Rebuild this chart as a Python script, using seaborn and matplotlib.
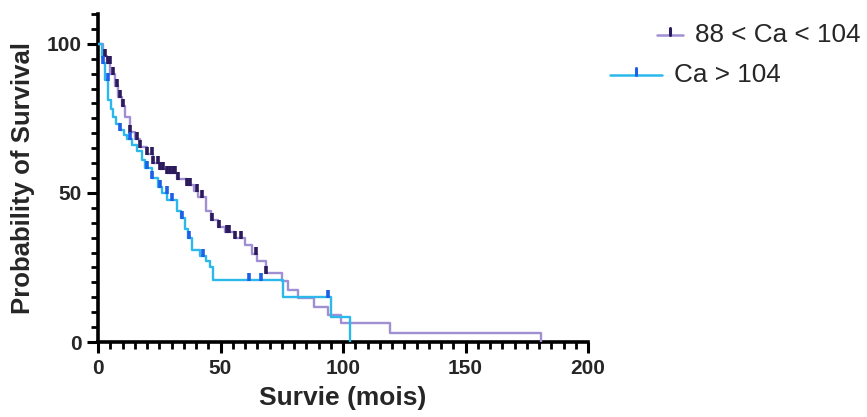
import numpy as np
import pandas as pd
import matplotlib
matplotlib.use("Agg")
import matplotlib.pyplot as plt
import matplotlib.transforms as mtransforms
from matplotlib.lines import Line2D
import seaborn as sns

# ---------------- data ----------------
group_labels = ["88 < Ca < 104", "Ca > 104"]

# group 1 : 88 < Ca < 104  (step function: time, survival after event)
g1_time = [0, 2, 3.7, 5, 7, 8.2, 9.8, 11, 13, 15, 17, 20, 22.5, 25.4, 28, 32.4,
           36.5, 39, 41, 44, 46, 49, 52, 56, 60, 63, 65, 68.4, 75, 77.5, 81.5,
           88, 94, 99, 119, 181]
g1_surv = [100, 96, 93.5, 90, 86, 82, 79, 75.5, 70.5, 68, 65.5, 63, 60, 58, 56.7,
           54.5, 52.5, 50.5, 48.7, 44, 41, 38.5, 37, 35, 32.5, 29.5, 27, 23.3,
           20.5, 17.4, 14.8, 11.7, 9, 6.4, 3, 0]
g1_censor = [2.9, 4.1, 4.9, 6.1, 7.8, 9, 10.2, 13, 16, 17.2, 20, 22, 22.5, 24.6,
             25.4, 26.6, 28.3, 29.5, 30.7, 31.6, 32.8, 36.5, 37.7, 40.6, 42.6,
             46.7, 49.2, 52.5, 53.3, 56, 58.2, 64.3, 68.4]

# group 2 : Ca > 104
g2_time = [0, 1.6, 2, 2.9, 4.1, 5.2, 6.1, 7.5, 9, 10.5, 12, 14, 16, 18, 19.3,
           22, 24.6, 26.2, 28.3, 32.4, 34, 35.7, 36.9, 38.5, 41.8, 43.9, 45.9,
           47.1, 75.4, 95, 103]
g2_surv = [100, 95.6, 93.6, 88, 81, 78, 75.5, 73, 71, 69.5, 68, 66, 64, 61, 58.5,
           55, 52, 50, 47.6, 44, 41.5, 38, 35, 31, 29, 27, 25, 20.8, 15.1, 8.5, 0]
g2_censor = [2, 4, 9, 13, 20, 22, 25.4, 28, 30, 34.4, 37, 43, 61.5, 66.4, 94]

x_ticks = [0, 50, 100, 150, 200]
y_ticks = [0, 50, 100]

# ---------------- styles ----------------
line_colors = ["#a08fd2", "#2cb8ea"]
mark_colors = ["#2b1a5c", "#1f5ee6"]

sns.set_theme(style="ticks")
plt.rcParams["font.family"] = ["Liberation Sans", "DejaVu Sans"]

fig = plt.figure(figsize=(8.67, 4.17), dpi=100)
W, H = 867, 417
ax = fig.add_axes([98 / W, (H - 342) / H, (588 - 98) / W, (342 - 14) / H])


def surv_at(times, surv, tt):
    idx = np.searchsorted(np.asarray(times), np.asarray(tt), side="right") - 1
    return np.asarray(surv)[idx]


df1 = pd.DataFrame({"time": g1_time, "surv": g1_surv})
df2 = pd.DataFrame({"time": g2_time, "surv": g2_surv})

for df, col in [(df1, line_colors[0]), (df2, line_colors[1])]:
    sns.lineplot(data=df, x="time", y="surv", ax=ax, color=col, lw=1.7,
                 drawstyle="steps-post", estimator=None, sort=False, zorder=3)

offset = mtransforms.offset_copy(ax.transData, fig=fig, x=0, y=3, units="dots")
for cens, times, surv, col in [(g1_censor, g1_time, g1_surv, mark_colors[0]),
                               (g2_censor, g2_time, g2_surv, mark_colors[1])]:
    cdf = pd.DataFrame({"time": cens, "surv": surv_at(times, surv, cens)})
    sns.scatterplot(data=cdf, x="time", y="surv", ax=ax, marker="|", s=32,
                    color=col, linewidth=2.6, zorder=4)
    ax.collections[-1].set_offset_transform(offset)

ax.set_xlim(0, 200)
ax.set_ylim(0, 110)
ax.set_xticks(x_ticks)
ax.set_yticks(y_ticks)
ax.set_xticks(np.arange(0, 201, 5), minor=True)
ax.set_yticks(np.arange(0, 111, 5), minor=True)
ax.tick_params(axis="both", which="major", length=8, width=2.2, color="black",
               labelsize=15, pad=4)
ax.tick_params(axis="both", which="minor", length=5, width=2.0, color="black")
for lab in ax.get_xticklabels() + ax.get_yticklabels():
    lab.set_fontweight("bold")
sns.despine(ax=ax)
for side in ["left", "bottom"]:
    ax.spines[side].set_linewidth(2.6)
    ax.spines[side].set_color("black")

ax.set_xlabel("Survie (mois)", fontsize=19, fontweight="bold", labelpad=6)
ax.set_ylabel("Probability of Survival", fontsize=18.5, fontweight="bold",
              labelpad=8)

# ---------------- legend (GraphPad style) ----------------
def legend_entry(x0, x1, y, label, lc, mc):
    yf = (H - y) / H
    fig.add_artist(Line2D([x0 / W, x1 / W], [yf, yf], color=lc, lw=1.8,
                          transform=fig.transFigure))
    xm = (x0 + x1) / 2 / W
    fig.add_artist(Line2D([xm, xm], [yf, (H - y + 7) / H], color=mc, lw=2.2,
                          transform=fig.transFigure))
    fig.text((x1 + 12) / W, yf, label, ha="left", va="center", fontsize=18.8)


legend_entry(657, 683, 35, group_labels[0], line_colors[0], mark_colors[0])
legend_entry(610, 662, 75, group_labels[1], line_colors[1], mark_colors[1])

fig.savefig("out.png", dpi=100)
